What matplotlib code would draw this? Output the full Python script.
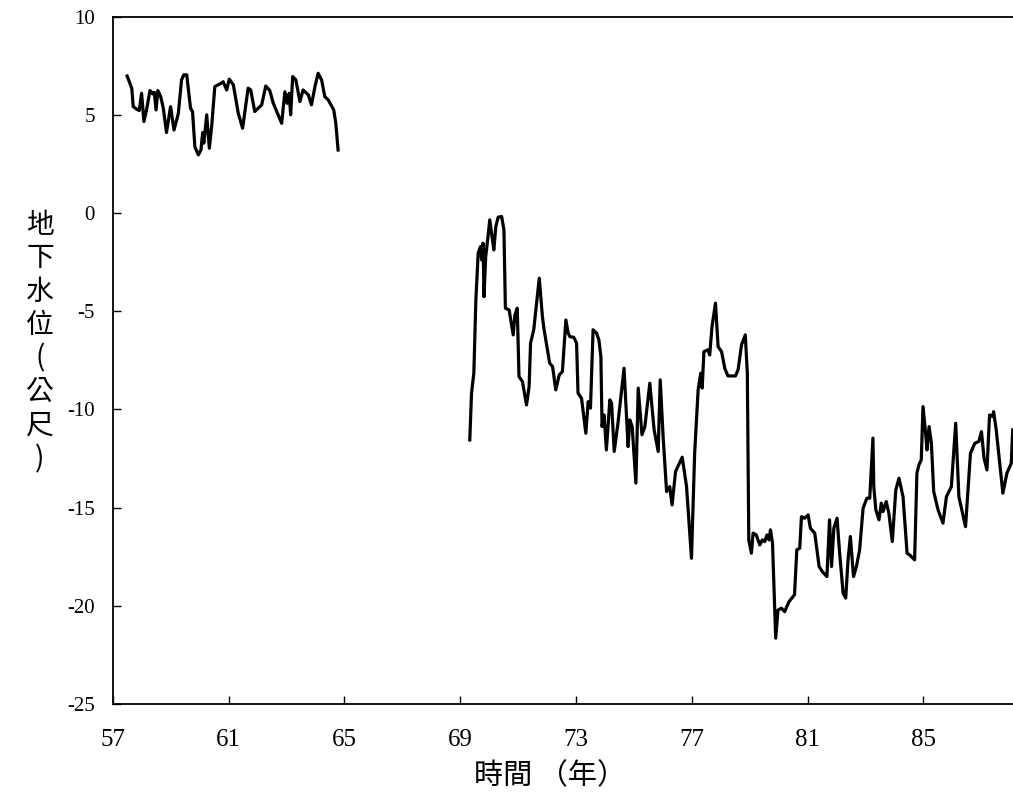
import matplotlib.pyplot as plt
import numpy as np

plt.rcParams['axes.unicode_minus'] = False

# 第一段 (57-65年)
yr_a = [57.49, 57.65, 57.70, 57.82, 57.91, 57.99, 58.07, 58.16, 58.28, 58.37,
        58.43, 58.49, 58.55, 58.65, 58.74, 58.85, 58.99, 59.11, 59.26, 59.37,
        59.45, 59.55, 59.68, 59.75, 59.83, 59.95, 60.04, 60.10, 60.14, 60.24,
        60.33, 60.41, 60.52, 60.70, 60.81, 60.93, 61.02, 61.16, 61.33, 61.48,
        61.67, 61.76, 61.90, 62.14, 62.28, 62.42, 62.54, 62.83, 62.94, 63.02,
        63.09, 63.14, 63.21, 63.32, 63.46, 63.57, 63.75, 63.86, 63.98, 64.09,
        64.21, 64.32, 64.44, 64.63, 64.70, 64.78]
wl_a = [6.99, 6.37, 5.43, 5.30, 5.23, 6.11, 4.67, 5.26, 6.25, 6.08,
        6.16, 5.26, 6.25, 5.94, 5.35, 4.11, 5.43, 4.24, 5.09, 6.79,
        7.05, 7.05, 5.35, 5.18, 3.39, 2.97, 3.22, 4.11, 3.57, 5.01,
        3.31, 4.41, 6.45, 6.59, 6.70, 6.28, 6.83, 6.54, 5.09, 4.33,
        6.37, 6.28, 5.18, 5.52, 6.48, 6.25, 5.60, 4.58, 6.19, 5.60,
        6.11, 5.01, 6.96, 6.79, 5.69, 6.28, 6.03, 5.52, 6.45, 7.13,
        6.79, 5.94, 5.77, 5.26, 4.58, 3.22]

# 第二段 (69-88年)
yr_b = [69.33, 69.39, 69.47, 69.54, 69.62, 69.70, 69.74, 69.79, 69.82, 69.88,
        69.96, 70.02, 70.10, 70.16, 70.23, 70.31, 70.43, 70.51, 70.56, 70.69,
        70.83, 70.89, 70.97, 71.03, 71.15, 71.29, 71.38, 71.43, 71.54, 71.73,
        71.84, 71.89, 72.09, 72.19, 72.30, 72.42, 72.53, 72.65, 72.73, 72.79,
        72.92, 73.02, 73.07, 73.19, 73.34, 73.42, 73.50, 73.59, 73.71, 73.79,
        73.86, 73.90, 73.97, 74.05, 74.17, 74.23, 74.32, 74.45, 74.66, 74.80,
        74.86, 74.94, 75.07, 75.15, 75.28, 75.38, 75.55, 75.70, 75.84, 75.91,
        76.01, 76.13, 76.24, 76.32, 76.44, 76.67, 76.82, 76.99, 77.10, 77.22,
        77.31, 77.36, 77.42, 77.56, 77.62, 77.70, 77.82, 77.91, 78.03, 78.14,
        78.25, 78.51, 78.60, 78.72, 78.85, 78.92, 78.97, 79.06, 79.12, 79.23,
        79.35, 79.44, 79.52, 79.60, 79.67, 79.72, 79.79, 79.87, 79.90, 79.98,
        80.10, 80.21, 80.36, 80.55, 80.63, 80.73, 80.79, 80.90, 81.02, 81.10,
        81.25, 81.40, 81.51, 81.67, 81.76, 81.83, 81.91, 82.02, 82.11, 82.23,
        82.32, 82.40, 82.48, 82.59, 82.69, 82.80, 82.92, 83.05, 83.15, 83.26,
        83.29, 83.36, 83.47, 83.55, 83.61, 83.72, 83.81, 83.93, 84.05, 84.16,
        84.30, 84.44, 84.53, 84.70, 84.78, 84.85, 84.93, 84.99, 85.08, 85.13,
        85.20, 85.28, 85.36, 85.51, 85.68, 85.80, 85.97, 86.12, 86.23, 86.46,
        86.63, 86.78, 86.92, 87.01, 87.10, 87.20, 87.29, 87.39, 87.43, 87.52,
        87.75, 87.89, 88.04, 88.09]
wl_b = [-11.55, -9.17, -8.15, -4.42, -2.04, -1.70, -2.38, -1.53, -4.25, -2.21,
        -1.19, -0.34, -1.19, -1.87, -0.68, -0.20, -0.17, -0.85, -4.84, -4.93,
        -6.20, -5.18, -4.84, -8.32, -8.58, -9.77, -8.83, -6.62, -5.94, -3.31,
        -5.27, -5.86, -7.64, -7.81, -9.00, -8.24, -8.07, -5.44, -6.11, -6.29,
        -6.32, -6.62, -9.17, -9.42, -11.21, -9.60, -9.93, -5.94, -6.11, -6.45,
        -7.31, -10.87, -10.28, -12.06, -9.51, -9.68, -12.14, -10.70, -7.90, -11.89,
        -10.53, -10.87, -13.75, -8.91, -11.29, -10.87, -8.66, -11.04, -12.14, -8.49,
        -11.38, -14.18, -13.93, -14.86, -13.16, -12.43, -13.93, -17.58, -12.23, -9.00,
        -8.15, -8.91, -7.05, -6.96, -7.22, -5.78, -4.58, -6.80, -7.05, -7.90,
        -8.29, -8.29, -7.98, -6.71, -6.20, -8.15, -16.64, -17.32, -16.30, -16.39,
        -16.90, -16.64, -16.73, -16.39, -16.64, -16.13, -16.81, -20.22, -21.65, -20.22,
        -20.12, -20.30, -19.79, -19.44, -17.15, -17.07, -15.46, -15.54, -15.37, -16.05,
        -16.30, -18.00, -18.26, -18.51, -15.62, -18.00, -16.05, -15.54, -17.32, -19.36,
        -19.61, -17.66, -16.47, -18.51, -18.00, -17.15, -15.03, -14.52, -14.52, -11.46,
        -13.93, -15.11, -15.62, -14.77, -15.20, -14.69, -15.28, -16.73, -14.10, -13.50,
        -14.44, -17.32, -17.41, -17.66, -13.24, -12.82, -12.57, -9.85, -11.21, -12.06,
        -10.87, -11.72, -14.18, -15.11, -15.79, -14.44, -13.93, -10.70, -14.44, -15.97,
        -12.23, -11.72, -11.63, -11.13, -12.48, -13.08, -10.28, -10.36, -10.11, -11.04,
        -14.26, -13.24, -12.74, -11.04]

x_ticks = [57, 61, 65, 69, 73, 77, 81, 85]
y_ticks = [10, 5, 0, -5, -10, -15, -20, -25]

cjk = ['Noto Sans CJK TC', 'DejaVu Sans']

fig = plt.figure(figsize=(10.13, 7.99), dpi=100)
ax = fig.add_axes([0.1115, 0.119, 0.8885, 0.8598])

ax.plot(yr_a, wl_a, color='black', lw=2.3)
ax.plot(yr_b, wl_b, color='black', lw=2.3)

ax.set_xlim(57, 88.1)
ax.set_ylim(-25, 10)
ax.set_xticks(x_ticks)
ax.set_yticks(y_ticks)
ax.spines['right'].set_visible(False)
for s in ['left', 'bottom', 'top']:
    ax.spines[s].set_linewidth(1.3)

ax.tick_params(axis='both', direction='in', length=6, width=1)
ax.tick_params(axis='x', pad=18)
ax.tick_params(axis='y', pad=13)
for t in ax.get_xticklabels():
    t.set_fontfamily('Liberation Serif')
    t.set_fontsize(18)
for t in ax.get_yticklabels():
    t.set_fontfamily('Liberation Serif')
    t.set_fontsize(15)

fig.text(550 / 1013, 1 - 776 / 799, '時間 （年）', family=cjk, fontsize=21,
         ha='center', va='center')
fig.text(40 / 1013, 1 - 342 / 799, '地\n下\n水\n位\n(\n公\n尺\n)', family=cjk,
         fontsize=20, ha='center', va='center', linespacing=1.15)

plt.savefig('out.png', dpi=100)
